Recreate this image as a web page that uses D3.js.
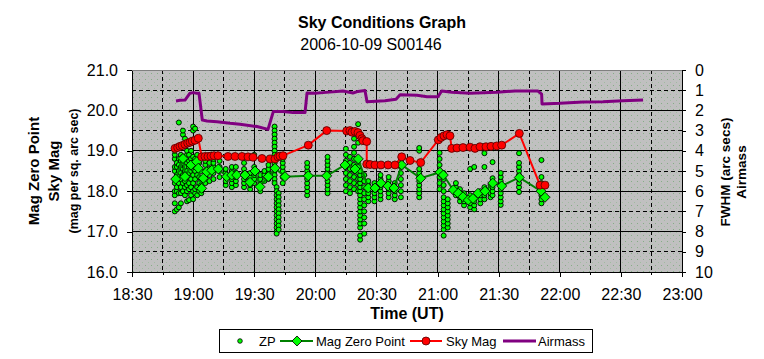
<!DOCTYPE html>
<html><head><meta charset="utf-8">
<script src="https://cdn.jsdelivr.net/npm/d3@7"></script>
<style>
body{margin:0;background:#fff}
text{font-family:"Liberation Sans", Arial, sans-serif}
</style>
</head><body>
<svg id="c" width="764" height="359"></svg>
<script>
// ---------- DATA ----------
const timeTicks = ["18:30","19:00","19:30","20:00","20:30","21:00","21:30","22:00","22:30","23:00"];
const leftTicks = [16, 17, 18, 19, 20, 21];
const rightTicks = [0,1,2,3,4,5,6,7,8,9,10];

// ZP individual measurements, grouped by time
const zpTimes = ["18:51","18:52","18:53","18:54","18:55","18:56","18:57","18:58","18:59","19:00","19:01","19:02","19:03","19:04",
  "19:06","19:08","19:10","19:13","19:16","19:19","19:21","19:25","19:28","19:30","19:33","19:35","19:37",
  "19:40","19:41","19:42","19:44","19:56","20:06",
  "20:15","20:17","20:19","20:21","20:22","20:24","20:26","20:29","20:32","20:36","20:39","20:42",
  "20:51","21:01","21:03","21:05","21:09","21:11","21:13","21:16","21:18","21:21","21:23","21:26","21:27","21:31","21:40","21:51"];
const zpValues = [
  [17.5,17.7,17.9,18.0,18.2,18.3,18.5,18.6,18.8,18.9,19.0],
  [17.55,18.0,18.1,18.3,18.4,18.6,18.7,19.1],
  [17.6,17.95,18.2,18.35,18.5,18.65,18.8,19.7],
  [17.7,17.95,18.1,18.3,18.45,18.6,18.75,18.9],
  [18.0,18.2,18.4,18.55,18.7,18.85,19.4,19.5],
  [17.9,18.1,18.25,18.4,18.5,18.6,18.75,19.3],
  [17.75,18.0,18.15,18.35,18.5,18.7,18.9,19.0],
  [17.78,18.05,18.2,18.45,18.6,18.75,18.9],
  [17.9,18.1,18.3,18.5,18.65,18.8,19.0,19.2],
  [17.8,18.0,18.2,18.4,18.55,18.7,18.85,19.5,19.6],
  [17.95,18.05,18.3,18.5,18.6,18.8,19.55],
  [17.9,18.1,18.4,18.6,18.75,18.9],
  [18.0,18.2,18.35,18.55,18.7],
  [17.95,18.15,18.3,18.5],
  [18.2,18.35,18.5,18.65,18.75],
  [18.25,18.4,18.55,18.7],
  [18.3,18.45,18.6,18.7,18.8],
  [18.35,18.5,18.6,18.75],
  [18.15,18.25,18.35,18.45,18.55],
  [18.1,18.2,18.3,18.4,18.5,18.6],
  [18.15,18.25,18.35,18.45,18.6],
  [18.1,18.2,18.3,18.45,18.55,18.7],
  [18.05,18.15,18.25,18.35,18.45],
  [18.2,18.3,18.4,18.5,18.6,18.9],
  [18.0,18.1,18.2,18.3,18.4],
  [18.25,18.4,18.5],
  [18.3,18.45,18.55,18.65],
  [19.6,19.5,19.4,19.3,19.2,19.1,19.0,18.9,18.8,18.7,18.6,18.5,18.4,18.3,18.2],
  [18.1,18.0,17.9,17.8,17.7,17.6,17.5,17.4,17.3,17.2,17.1,17.0,16.95],
  [17.95,17.85,17.75,17.65,17.55,17.45,17.35,17.25,17.15,17.05],
  [18.2,18.35,18.5,18.6,18.7,18.8],
  [17.9,18.0,18.1,18.2,18.3,18.4,18.5,18.6,18.7],
  [17.95,18.05,18.15,18.25,18.45,18.55,18.65,18.75,18.85],
  [18.0,18.15,18.3,18.45,18.6,18.75,18.9,19.05],
  [17.95,18.1,18.25,18.4,18.55,18.7,18.85],
  [18.05,18.2,18.35,18.5,18.65,18.8,18.95,19.1,19.3],
  [18.0,18.15,18.3,18.45,18.6,18.75,19.2,19.66],
  [16.8,16.9,17.1,17.2,17.3,17.4,17.5,17.6,17.7,17.8,17.9,18.0,18.1,18.2,18.3,18.4,18.5],
  [16.95,17.2,17.35,17.5,17.65,17.8,17.95,18.1,18.25,18.4],
  [17.75,17.85,17.95,18.05,18.15,18.25],
  [17.75,17.85,17.95,18.05,18.2],
  [17.8,17.9,18.0,18.1,18.2,18.3,18.4],
  [17.85,17.95,18.05,18.15,18.25,18.35],
  [17.8,17.9,18.0,18.1,18.2],
  [17.85,18.0,18.15,18.3,18.45,18.6,18.75],
  [17.85,17.95,18.05,18.15,18.25,18.35,18.45,18.55,19.0,19.07],
  [18.05,18.2,18.35,18.5,18.65,18.8,18.95],
  [16.9,17.05,17.15,17.25,17.35,17.45,17.55,17.65,17.75,17.85,18.0,18.15,18.3,18.45],
  [17.1,17.2,17.3,17.4,17.5,17.6,17.7,17.8],
  [17.9,18.0,18.1,18.2],
  [17.75,17.85,17.95,18.05],
  [17.65,17.75,17.85,17.95],
  [17.6,17.7,17.8,17.9,18.55],
  [17.55,17.65,17.75,17.85,18.6],
  [17.7,17.8,17.9,18.0],
  [17.8,17.9,18.0,18.1,18.6,18.94],
  [17.85,17.95,18.05,18.15],
  [17.9,18.0,18.1,18.2,18.32,18.72],
  [17.66,17.75,17.85,17.95,18.05,18.15,18.25,18.35,18.45],
  [17.98,18.1,18.2,18.3,18.4,18.5,18.6,18.7,18.94],
  [17.7,17.8,17.9,18.0,18.1,18.2,18.35,18.77]
];

// Mag Zero Point (averaged)
const mzpTimes = ["18:51:27","18:55:02","18:56:01","18:58:58","19:01:46","19:02:33","19:04:13","19:05:00","19:06:40","19:09:08","19:12:22",
  "19:16:29","19:18:57","19:21:24","19:25:28","19:27:56","19:30:23","19:32:50","19:36:55","19:40:12","19:45:07","19:56:33","20:05:35",
  "20:14:34","20:19:28","20:21:06","20:26:00","20:29:17","20:32:14","20:35:41","20:38:37","20:42:24","20:51:44",
  "21:01:12","21:02:50","21:07:44","21:10:11","21:12:29","21:15:05","21:17:24","21:19:52","21:23:18","21:27:05","21:31:30","21:40:08","21:50:47","21:52:45"];
const mzpValues = [18.30,18.81,18.36,18.65,18.73,18.57,18.07,18.32,18.48,18.52,18.55,
  18.36,18.40,18.40,18.40,18.22,18.50,18.11,18.36,18.57,18.36,18.38,18.38,
  18.65,18.55,18.80,18.08,18.08,18.20,18.13,18.08,18.65,18.32,
  18.47,18.40,18.03,17.95,17.86,17.78,17.82,17.95,18.00,18.20,18.13,18.34,18.00,17.85];

// Sky Mag
const skyTimes = ["18:51:07","18:52:26","18:53:34","18:54:41","18:56:01","18:57:21","18:58:28","18:59:36","19:00:56","19:02:33",
  "19:04:13","19:05:50","19:07:19","19:08:47","19:10:15","19:12:13","19:17:08","19:20:34","19:24:00","19:26:57","19:29:24","19:33:49",
  "19:37:45","19:40:12","19:41:40","19:42:40","19:44:08","19:56:33","20:05:35",
  "20:15:24","20:17:00","20:18:00","20:19:28","20:20:57","20:21:56","20:22:54","20:23:24","20:25:13","20:25:14",
  "20:26:50","20:29:17","20:32:14","20:35:41","20:39:07","20:42:24","20:46:29","20:51:44",
  "21:00:22","21:01:42","21:03:10","21:04:38","21:06:07","21:06:57","21:09:33","21:12:29","21:15:56","21:18:23","21:20:50",
  "21:23:47","21:26:15","21:29:03","21:31:30","21:40:08","21:50:18","21:52:45"];
const skyValues = [19.06,19.08,19.11,19.13,19.16,19.19,19.21,19.24,19.26,19.31,
  18.85,18.86,18.86,18.87,18.88,18.88,18.86,18.86,18.86,18.85,18.84,18.81,
  18.80,18.80,18.85,18.87,18.88,19.14,19.50,
  19.49,19.50,19.46,19.48,19.45,19.38,19.30,19.25,19.23,18.67,
  18.66,18.65,18.65,18.65,18.65,18.85,18.76,18.71,
  19.27,19.33,19.37,19.40,19.37,19.06,19.07,19.08,19.09,19.06,19.10,
  19.10,19.11,19.12,19.14,19.43,18.15,18.15];

// Airmass (right axis)
const airTimes = ["18:51:36","18:53:34","18:56:01","18:58:28","19:00:06","19:01:46","19:02:53","19:04:31","19:06:49","19:11:44",
  "19:18:06","19:23:01","19:31:22","19:36:46","19:39:22","19:44:08","19:49:02","19:54:56","19:55:55","19:59:50","20:03:46",
  "20:13:35","20:18:30","20:20:57","20:24:23","20:25:22","20:34:12","20:39:36","20:41:36","20:49:55","20:54:49","21:00:13",
  "21:02:02","21:07:05","21:15:56","21:29:11","21:38:00","21:49:19","21:51:06","21:51:17","22:00:06","22:11:24","22:21:12","22:31:00","22:40:54"];
const airValues = [1.53,1.50,1.49,1.15,1.12,1.15,1.15,2.48,2.52,2.56,
  2.64,2.69,2.80,2.94,2.06,2.06,2.11,2.11,1.14,1.15,1.12,
  1.04,1.14,1.06,1.02,1.57,1.52,1.45,1.22,1.25,1.32,1.32,
  1.04,1.10,1.15,1.10,1.04,1.04,1.20,1.68,1.65,1.58,1.57,1.52,1.49];

// ---------- CHART ----------
const svg = d3.select("#c");
const L = 132, R = 682, T = 70, B = 272;
const parse = s => d3.utcParse(s.length > 5 ? "%H:%M:%S" : "%H:%M")(s);

const x = d3.scaleUtc().domain([parse(timeTicks[0]), parse(timeTicks[timeTicks.length-1])]).range([L, R]);
const y = d3.scaleLinear().domain([16, 21]).range([B, T]);
const y2 = d3.scaleLinear().domain([0, 10]).range([T, B]);

// background pattern
const defs = svg.append("defs");
const pat = defs.append("pattern").attr("id","bg").attr("patternUnits","userSpaceOnUse")
  .attr("width",6).attr("height",6);
pat.append("rect").attr("width",6).attr("height",6).attr("fill","#c0c0c0");
pat.append("rect").attr("x",1).attr("y",1).attr("width",1).attr("height",1).attr("fill","#86ad86");
pat.append("rect").attr("x",4).attr("y",4).attr("width",1).attr("height",1).attr("fill","#a0bca0");

svg.append("rect").attr("x",L).attr("y",T).attr("width",R-L).attr("height",B-T).attr("fill","url(#bg)");

// gridlines
const g = svg.append("g");
const minorTimes = d3.utcMinute.every(15).range(x.domain()[0], x.domain()[1]);
minorTimes.forEach(t => {
  const isMajor = t.getUTCMinutes() % 30 === 0;
  if (+t === +x.domain()[0]) return;
  g.append("line").attr("x1",x(t)).attr("x2",x(t)).attr("y1",T).attr("y2",B)
    .attr("stroke","#000").attr("stroke-width",1).attr("shape-rendering","crispEdges")
    .attr("stroke-dasharray", isMajor ? null : "4,3");
});
d3.range(16.5, 21, 0.5).forEach(v => {
  const isMajor = Math.abs(v - Math.round(v)) < 1e-6;
  g.append("line").attr("x1",L).attr("x2",R).attr("y1",y(v)).attr("y2",y(v))
    .attr("stroke","#000").attr("stroke-width",1).attr("shape-rendering","crispEdges")
    .attr("stroke-dasharray", isMajor ? null : "4,3");
});

svg.append("rect").attr("x",L).attr("y",T).attr("width",R-L).attr("height",B-T)
  .attr("fill","none").attr("stroke","#808080").attr("shape-rendering","crispEdges");

// axes
function styleAxis(sel){
  sel.selectAll("text").attr("font-family","'Liberation Sans', Arial, sans-serif").attr("font-size",16).attr("fill","#000");
  sel.selectAll("line,path").attr("stroke","#000").attr("shape-rendering","crispEdges");
}
svg.append("g").attr("transform",`translate(${L},0)`)
  .call(d3.axisLeft(y).tickValues(leftTicks).tickFormat(d3.format(".1f")).tickSize(5).tickSizeOuter(0).tickPadding(9))
  .call(styleAxis);
svg.append("g").attr("transform",`translate(${R},0)`)
  .call(d3.axisRight(y2).tickValues(rightTicks).tickFormat(d3.format("d")).tickSize(4).tickSizeOuter(0).tickPadding(9))
  .call(styleAxis);
svg.append("g").attr("transform",`translate(0,${B})`)
  .call(d3.axisBottom(x).tickValues(minorTimes.concat([x.domain()[1]]).filter(t=>t.getUTCMinutes()%30!==0)).tickFormat("").tickSize(3).tickSizeOuter(0))
  .call(styleAxis);
svg.append("g").attr("transform",`translate(0,${B})`)
  .call(d3.axisBottom(x).tickValues(timeTicks.map(parse)).tickFormat(d3.utcFormat("%H:%M")).tickSize(5).tickSizeOuter(0).tickPadding(12))
  .call(styleAxis);

// ZP scatter
const zpPts = [];
zpTimes.forEach((t,i) => zpValues[i].forEach(v => zpPts.push([parse(t), v])));
svg.append("g").selectAll("circle").data(zpPts).join("circle")
  .attr("cx", d => x(d[0])).attr("cy", d => y(d[1])).attr("r", 2.5)
  .attr("fill","#00ff00").attr("stroke","#000").attr("stroke-width",0.9);

// Mag Zero Point
const mzp = mzpTimes.map((t,i) => [parse(t), mzpValues[i]]);
const lineL = d3.line().x(d => x(d[0])).y(d => y(d[1]));
svg.append("path").datum(mzp).attr("d", lineL).attr("fill","none").attr("stroke","#008000").attr("stroke-width",2);
const diamond = d3.symbol().type(d3.symbolSquare).size(50);
svg.append("g").selectAll("path").data(mzp).join("path")
  .attr("d", diamond)
  .attr("transform", d => `translate(${x(d[0])},${y(d[1])}) rotate(45)`)
  .attr("fill","#00ff00").attr("stroke","#000").attr("stroke-width",0.8);

// Sky Mag
const sky = skyTimes.map((t,i) => [parse(t), skyValues[i]]);
svg.append("path").datum(sky).attr("d", lineL).attr("fill","none").attr("stroke","#ff0000").attr("stroke-width",2);
svg.append("g").selectAll("circle").data(sky).join("circle")
  .attr("cx", d => x(d[0])).attr("cy", d => y(d[1])).attr("r", 4)
  .attr("fill","#ff0000").attr("stroke","#500000").attr("stroke-width",0.8);

// Airmass
const air = airTimes.map((t,i) => [parse(t), airValues[i]]);
svg.append("path").datum(air).attr("d", d3.line().x(d => x(d[0])).y(d => y2(d[1])))
  .attr("fill","none").attr("stroke","#800080").attr("stroke-width",3).attr("stroke-linejoin","round");

// titles
const F = "'Liberation Sans', Arial, sans-serif";
svg.append("text").attr("x",382).attr("y",28).attr("text-anchor","middle").attr("font-size",16).attr("font-weight","bold").text("Sky Conditions Graph");
svg.append("text").attr("x",371).attr("y",50).attr("text-anchor","middle").attr("font-size",16).text("2006-10-09 S00146");
svg.append("text").attr("x",407).attr("y",319).attr("text-anchor","middle").attr("font-size",16).attr("font-weight","bold").text("Time (UT)");

const lt = svg.append("g").attr("transform","translate(0,171) rotate(-90)");
lt.append("text").attr("x",0).attr("y",39).attr("text-anchor","middle").attr("font-size",15).attr("font-weight","bold").text("Mag Zero Point");
lt.append("text").attr("x",0).attr("y",59).attr("text-anchor","middle").attr("font-size",15).attr("font-weight","bold").text("Sky Mag");
lt.append("text").attr("x",0).attr("y",78).attr("text-anchor","middle").attr("font-size",12.5).attr("font-weight","bold").text("(mag per sq. arc sec)");

const rt = svg.append("g").attr("transform","translate(0,172) rotate(-90)");
rt.append("text").attr("x",0).attr("y",730).attr("text-anchor","middle").attr("font-size",13.5).attr("font-weight","bold").text("FWHM (arc secs)");
rt.append("text").attr("x",0).attr("y",746).attr("text-anchor","middle").attr("font-size",13.5).attr("font-weight","bold").text("Airmass");

// legend
const lg = svg.append("g");
lg.append("rect").attr("x",219.5).attr("y",329.5).attr("width",373).attr("height",23).attr("fill","#fff").attr("stroke","#000");
const ly = 341;
lg.append("circle").attr("cx",240).attr("cy",ly).attr("r",2.3).attr("fill","#00ff00").attr("stroke","#000").attr("stroke-width",0.8);
lg.append("text").attr("x",259).attr("y",ly+5).attr("font-size",13).text("ZP");
lg.append("line").attr("x1",280).attr("x2",313).attr("y1",ly).attr("y2",ly).attr("stroke","#008000").attr("stroke-width",2);
lg.append("path").attr("d",diamond).attr("transform",`translate(297,${ly}) rotate(45)`).attr("fill","#00ff00").attr("stroke","#000").attr("stroke-width",0.8);
lg.append("text").attr("x",316).attr("y",ly+5).attr("font-size",13).text("Mag Zero Point");
lg.append("line").attr("x1",410).attr("x2",442).attr("y1",ly).attr("y2",ly).attr("stroke","#ff0000").attr("stroke-width",2);
lg.append("circle").attr("cx",426).attr("cy",ly).attr("r",4).attr("fill","#ff0000").attr("stroke","#500000").attr("stroke-width",0.8);
lg.append("text").attr("x",446).attr("y",ly+5).attr("font-size",13).text("Sky Mag");
lg.append("line").attr("x1",503).attr("x2",536).attr("y1",ly).attr("y2",ly).attr("stroke","#800080").attr("stroke-width",3);
lg.append("text").attr("x",538).attr("y",ly+5).attr("font-size",13).text("Airmass");
svg.selectAll("text").attr("font-family", F);
</script>
</body></html>
